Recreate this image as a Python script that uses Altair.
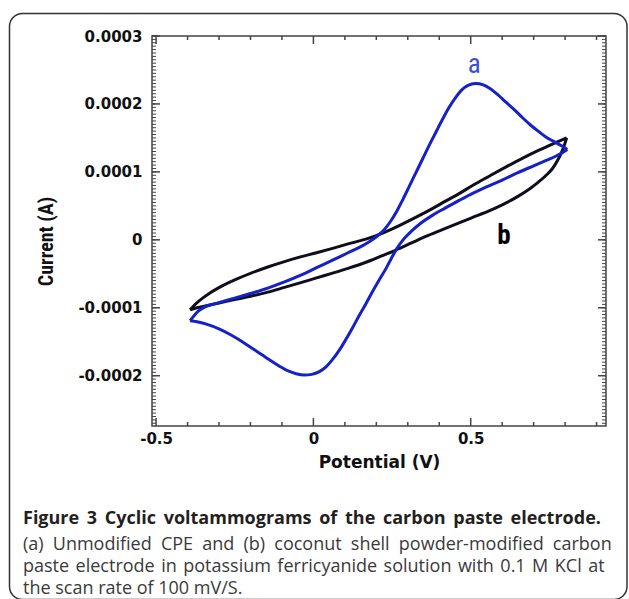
import altair as alt
import pandas as pd

# ---------------- data (potential in V, current in microamps) ----------------
a_fwd_E = [-0.392, -0.380, -0.366, -0.346, -0.320, -0.290, -0.251, -0.200, -0.145, -0.092,
           -0.040, 0.010, 0.061, 0.110, 0.146, 0.180, 0.204, 0.225, 0.245, 0.265,
           0.285, 0.305, 0.326, 0.347, 0.368, 0.390, 0.410, 0.430, 0.453, 0.470,
           0.490, 0.516, 0.540, 0.560, 0.585, 0.611, 0.640, 0.664, 0.690, 0.717,
           0.740, 0.759, 0.775, 0.790, 0.807]
a_fwd_I = [-119, -112, -105, -99, -95, -91, -86, -79, -71, -62,
           -52, -41, -30, -19, -11, -2, 6, 15, 27, 42,
           60, 79, 99, 119, 139, 159, 177, 194, 210, 220,
           227, 230, 228, 223, 214, 203, 191, 180, 169, 159,
           151, 146, 142, 138, 133]

a_rev_E = [0.807, 0.790, 0.770, 0.740, 0.700, 0.650, 0.600, 0.550, 0.506, 0.463,
           0.420, 0.378, 0.340, 0.310, 0.285, 0.265, 0.248, 0.231, 0.209, 0.188,
           0.167, 0.146, 0.125, 0.104, 0.083, 0.061, 0.040, 0.019, -0.005, -0.029,
           -0.055, -0.080, -0.108, -0.135, -0.161, -0.190, -0.213, -0.240, -0.266, -0.300,
           -0.340, -0.370, -0.392]
a_rev_I = [133, 128, 123, 117, 109, 99, 88, 78, 68.5, 58,
           47, 36, 24, 12, 0, -13, -27, -42, -59, -76,
           -94, -111, -129, -146, -162, -176, -187, -194, -198, -199,
           -197, -193, -186, -178, -170, -161, -154, -146, -139, -131,
           -124, -120.5, -119]

b_up_E = [-0.392, -0.380, -0.366, -0.350, -0.330, -0.303, -0.250, -0.198, -0.145, -0.092,
          -0.044, 0.010, 0.061, 0.110, 0.167, 0.220, 0.273, 0.325, 0.378, 0.420,
          0.463, 0.506, 0.560, 0.611, 0.664, 0.717, 0.770, 0.805]
b_up_I = [-103, -97, -91, -85, -78.5, -71, -59, -49, -40, -32,
          -25.5, -19, -12.5, -6, 1, 10, 21, 33, 46, 57,
          68, 80, 94, 107, 120, 132, 143, 150]

b_lo_E = [0.805, 0.798, 0.788, 0.775, 0.760, 0.740, 0.715, 0.690, 0.650, 0.611,
          0.560, 0.506, 0.463, 0.410, 0.357, 0.310, 0.262, 0.215, 0.167, 0.110,
          0.061, 0.010, -0.040, -0.092, -0.145, -0.200, -0.251, -0.300, -0.340, -0.370,
          -0.392]
b_lo_I = [150, 140, 128, 116, 105, 95, 85, 76, 64, 54,
          43, 33, 25, 15, 5, -5, -15, -24, -33, -42,
          -49, -56, -63, -70, -77, -83, -88, -93, -97, -100,
          -103]

curve_labels = ["a", "b"]
curve_label_E = [0.511, 0.606]
curve_label_I = [258, 6]

x_tick_labels = [-0.5, 0, 0.5]
x_minor = [-0.4, -0.3, -0.2, -0.1, 0.1, 0.2, 0.3, 0.4, 0.6, 0.7, 0.8, 0.9]
y_tick_labels = [-0.0002, -0.0001, 0, 0.0001, 0.0002, 0.0003]
y_minor = [k * 0.000005 for k in range(-54, 61)]

caption_title = ["Figure", "3", "Cyclic", "voltammograms", "of", "the", "carbon", "paste", "electrode."]
caption_lines = [
    ["(a)", "Unmodified", "CPE", "and", "(b)", "coconut", "shell", "powder-modified", "carbon"],
    ["paste", "electrode", "in", "potassium", "ferricyanide", "solution", "with", "0.1", "M", "KCl", "at"],
    ["the", "scan", "rate", "of", "100", "mV/S."],
]
# word gaps of the justified caption lines (normal space plus a narrow unicode space)
caption_gaps = [" \u2009", " \u2005", " \u200a", " "]

# ---------------- build tables ----------------
def curve_df(series, branch, xs, ys):
    return pd.DataFrame({"series": series, "branch": branch,
                         "E": xs, "I": [v * 1e-6 for v in ys]})

df_a = pd.concat([curve_df("a", "a1", a_fwd_E, a_fwd_I), curve_df("a", "a2", a_rev_E, a_rev_I)])
df_b = pd.concat([curve_df("b", "b1", b_up_E, b_up_I), curve_df("b", "b2", b_lo_E, b_lo_I)])
df_lab = pd.DataFrame({"t": curve_labels, "E": curve_label_E, "I": [v * 1e-6 for v in curve_label_I]})

W, H = 454, 390
BLUE = "#1420c8"
BLACK = "#0e0e1c"
FRAME = "#444444"
NARROW = "Liberation Sans Narrow, Roboto Condensed, Roboto, sans-serif"

xscale = alt.Scale(domain=[-0.513, 0.93], nice=False, zero=False)
yscale = alt.Scale(domain=[-0.000274, 0.0003], nice=False, zero=False)

xaxis = alt.Axis(values=x_tick_labels,
                 labelExpr="datum.value == 0 ? '0' : (datum.value < 0 ? '-' : '') + format(abs(datum.value), '.1f')",
                 ticks=False, domain=False, grid=False, labelFlush=False, labelOverlap=False,
                 labelFont="DejaVu Sans", labelFontWeight="bold", labelFontSize=15, labelColor="#111111",
                 labelPadding=5,
                 title="Potential (V)", titleFont="DejaVu Sans", titleFontWeight="bold", titleFontSize=17,
                 titleColor="#111111", titleX=W / 2, titleY=41, titleBaseline="alphabetic", titleAlign="center")
yaxis = alt.Axis(values=y_tick_labels,
                 labelExpr="datum.value == 0 ? '0' : (datum.value < 0 ? '-' : '') + format(abs(datum.value), '.4f')",
                 ticks=False, domain=False, grid=False, labelFlush=False, labelOverlap=False,
                 labelFont="DejaVu Sans", labelFontWeight="bold", labelFontSize=15, labelColor="#111111",
                 labelPadding=10,
                 title="Current (A)", titleFont=NARROW,
                 titleFontWeight="bold", titleFontSize=20, titleColor="#111111", titleAngle=-90,
                 titleX=-106, titleY=205, titleBaseline="middle", titleAlign="center")

line_b = alt.Chart(df_b).mark_line(strokeWidth=3, color=BLACK, interpolate="monotone").encode(
    x=alt.X("E:Q", scale=xscale, axis=xaxis),
    y=alt.Y("I:Q", scale=yscale, axis=yaxis),
    detail="branch:N")
line_a = alt.Chart(df_a).mark_line(strokeWidth=3, color=BLUE, interpolate="monotone").encode(
    x=alt.X("E:Q", scale=xscale),
    y=alt.Y("I:Q", scale=yscale),
    detail="branch:N")

lab_a = alt.Chart(df_lab[df_lab.t == "a"]).mark_text(
    font=NARROW, fontSize=27, color="#3b4ed6",
    align="center", baseline="middle").encode(
    x=alt.X("E:Q", scale=xscale), y=alt.Y("I:Q", scale=yscale), text="t:N")
lab_b = alt.Chart(df_lab[df_lab.t == "b"]).mark_text(
    font=NARROW, fontSize=27, fontWeight="bold",
    color="#000000", align="center", baseline="middle").encode(
    x=alt.X("E:Q", scale=xscale), y=alt.Y("I:Q", scale=yscale), text="t:N")


def xticks(vals, length, sw):
    d = pd.DataFrame({"v": vals})
    bottom = alt.Chart(d).mark_rule(color=FRAME, strokeWidth=sw).encode(
        x=alt.X("v:Q", scale=xscale), y=alt.value(H), y2=alt.value(H - length))
    top = alt.Chart(d).mark_rule(color=FRAME, strokeWidth=sw).encode(
        x=alt.X("v:Q", scale=xscale), y=alt.value(0), y2=alt.value(length))
    return [bottom, top]


def yticks(vals, length, sw):
    d = pd.DataFrame({"v": vals})
    left = alt.Chart(d).mark_rule(color=FRAME, strokeWidth=sw).encode(
        y=alt.Y("v:Q", scale=yscale), x=alt.value(0), x2=alt.value(length))
    right = alt.Chart(d).mark_rule(color=FRAME, strokeWidth=sw).encode(
        y=alt.Y("v:Q", scale=yscale), x=alt.value(W), x2=alt.value(W - length))
    return [left, right]


tick_layers = (xticks(x_tick_labels, 8, 1.5) + xticks(x_minor, 4, 1.5)
               + yticks(y_tick_labels, 8, 1.5) + yticks(y_minor, 4, 1))

one = pd.DataFrame({"k": [0]})
border = alt.Chart(one).mark_rect(fillOpacity=0, stroke="#333333", strokeWidth=1.5, cornerRadius=13).encode(
    x=alt.value(-142.5), x2=alt.value(475), y=alt.value(-22.5), y2=alt.value(563.5))

cap_font = "Open Sans, Noto Sans, sans-serif"
cap_layers = [alt.Chart(one).mark_text(font=cap_font, fontSize=18, fontWeight="bold", color="#231f20",
                                       align="left", baseline="alphabetic").encode(
    x=alt.value(-129), y=alt.value(488), text=alt.value(caption_gaps[0].join(caption_title)))]
for k, words in enumerate(caption_lines):
    cap_layers.append(alt.Chart(one).mark_text(font=cap_font, fontSize=18, color="#3a3a3a",
                                               align="left", baseline="alphabetic").encode(
        x=alt.value(-129), y=alt.value(514 + 22 * k), text=alt.value(caption_gaps[k + 1].join(words))))

chart = alt.layer(line_b, line_a, *tick_layers, lab_a, lab_b, border, *cap_layers).properties(
    width=W, height=H,
    autosize=alt.AutoSizeParams(type="none"),
    padding={"left": 152, "top": 36, "right": 23, "bottom": 173},
    background="white",
).configure_view(stroke=FRAME, strokeWidth=1.5)

chart.save("out.html", embed_options={"renderer": "svg", "actions": False})
